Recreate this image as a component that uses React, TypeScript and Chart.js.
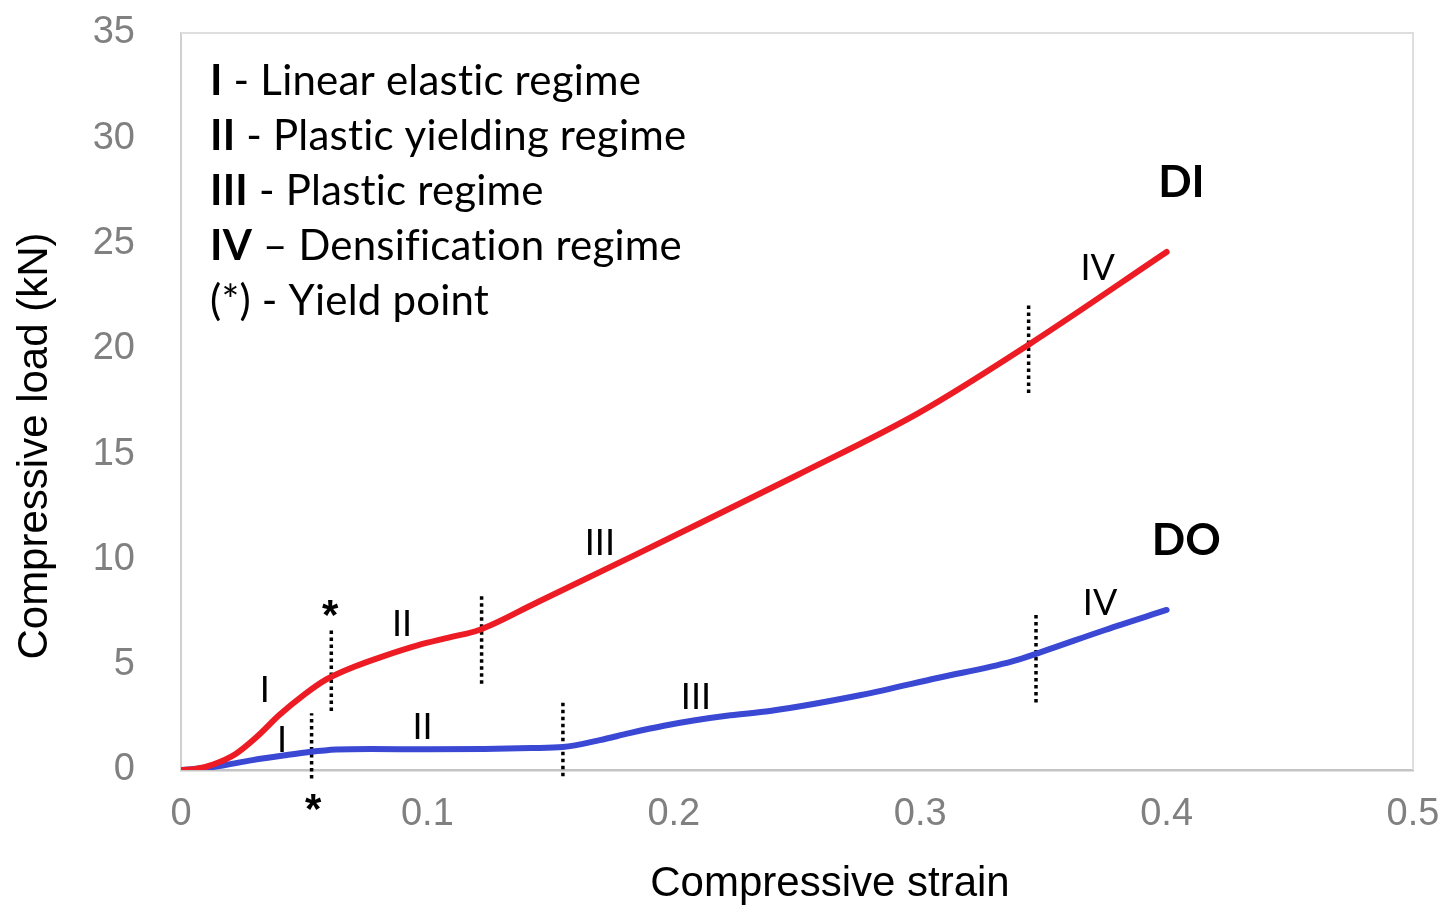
import React, { useEffect, useRef } from "react";
import { Chart, registerables } from "chart.js";

Chart.register(...registerables);

// ---- data ----
const diStrain = [0, 0.006, 0.013, 0.022, 0.031, 0.04, 0.05, 0.059, 0.07, 0.082, 0.096, 0.109, 0.121, 0.144, 0.185, 0.212, 0.25, 0.3, 0.344, 0.4];
const diLoad = [0, 0.05, 0.26, 0.75, 1.6, 2.62, 3.58, 4.3, 4.89, 5.4, 5.92, 6.3, 6.65, 7.93, 10.25, 11.8, 14.0, 17.0, 20.2, 24.6];

const doStrain = [0, 0.013, 0.029, 0.043, 0.052, 0.063, 0.077, 0.1, 0.123, 0.142, 0.155, 0.17, 0.182, 0.196, 0.208, 0.223, 0.239, 0.276, 0.307, 0.337, 0.349, 0.375, 0.4];
const doLoad = [0, 0.14, 0.47, 0.71, 0.85, 0.97, 1.0, 0.98, 1.0, 1.04, 1.09, 1.42, 1.75, 2.1, 2.35, 2.6, 2.8, 3.56, 4.37, 5.15, 5.6, 6.65, 7.6];

// dotted regime dividers
const dividerStrain = [0.061, 0.122, 0.053, 0.155, 0.344, 0.347];
const dividerLow = [2.8, 4.1, -0.4, -0.3, 17.9, 3.2];
const dividerHigh = [6.65, 8.4, 2.7, 3.3, 22.2, 7.5];

// regime labels on the curves
const regimeText = ["I", "II", "III", "IV", "I", "II", "III", "IV"];
const regimeStrain = [0.034, 0.0897, 0.17, 0.372, 0.041, 0.098, 0.209, 0.373];
const regimeLoad = [3.8, 6.9, 10.78, 23.84, 1.42, 2.0, 3.47, 7.93];

// yield point asterisks
const yieldStrain = [0.0605, 0.0536];
const yieldLoad = [7.69, -1.52];

// curve names
const curveNames = ["DI", "DO"];
const nameStrain = [0.406, 0.408];
const nameLoad = [27.9, 10.9];

// legend block
const legendBold = ["I", "II", "III", "IV", ""];
const legendRest = [" - Linear elastic regime", " - Plastic yielding regime", " - Plastic regime", " \u2013 Densification regime", "(*) - Yield point"];

// ticks
const xTickValues = [0, 0.1, 0.2, 0.3, 0.4, 0.5];
const xTickLabels = ["0", "0.1", "0.2", "0.3", "0.4", "0.5"];
const yTickValues = [0, 5, 10, 15, 20, 25, 30, 35];
const yTickLabels = ["0", "5", "10", "15", "20", "25", "30", "35"];

const xTitle = "Compressive strain";
const yTitle = "Compressive load (kN)";

const RED = "rgb(237,28,36)";
const BLUE = "rgb(58,72,212)";

const annotPlugin = {
  id: "annot",
  beforeDatasetsDraw(chart: any) {
    const { ctx, chartArea } = chart;
    ctx.save();
    ctx.strokeStyle = "#dedede";
    ctx.lineWidth = 2;
    ctx.beginPath();
    ctx.moveTo(chartArea.left, chartArea.top);
    ctx.lineTo(chartArea.right, chartArea.top);
    ctx.lineTo(chartArea.right, chartArea.bottom);
    ctx.stroke();
    ctx.restore();
  },
  afterDatasetsDraw(chart: any) {
    const { ctx, chartArea, scales } = chart;
    const xs = scales.x;
    const ys = scales.y;
    ctx.save();
    ctx.fillStyle = "#000";
    ctx.textAlign = "center";
    ctx.textBaseline = "middle";

    // regime numerals
    ctx.font = "36px Lato";
    regimeText.forEach((t, i) => {
      ctx.fillText(t, xs.getPixelForValue(regimeStrain[i]), ys.getPixelForValue(regimeLoad[i]));
    });

    // asterisks
    ctx.font = "bold 42px 'Liberation Sans'";
    yieldStrain.forEach((s, i) => {
      ctx.fillText("*", xs.getPixelForValue(s), ys.getPixelForValue(yieldLoad[i]) + 9);
    });

    // curve names
    ctx.font = "bold 44px Lato";
    curveNames.forEach((t, i) => {
      ctx.fillText(t, xs.getPixelForValue(nameStrain[i]), ys.getPixelForValue(nameLoad[i]));
    });

    // legend block
    ctx.textAlign = "left";
    try {
      (ctx as any).letterSpacing = "0.2px";
    } catch (e) {}
    const lx = chartArea.left + 29;
    legendBold.forEach((b, i) => {
      const ly = chartArea.top + 48 + i * 55;
      let x = lx;
      if (b) {
        ctx.font = "bold 42px Lato";
        ctx.fillText(b, x, ly);
        x += ctx.measureText(b).width;
      }
      ctx.font = "42px Lato";
      ctx.fillText(legendRest[i], x, ly);
    });
    try {
      (ctx as any).letterSpacing = "0px";
    } catch (e) {}

    // axis titles
    ctx.textAlign = "center";
    ctx.font = "42px 'Liberation Sans'";
    ctx.fillText(xTitle, 830, 884);
    ctx.save();
    ctx.translate(35, 446);
    ctx.rotate(-Math.PI / 2);
    ctx.fillText(yTitle, 0, 0);
    ctx.restore();

    ctx.restore();
  },
};

export default function App() {
  const ref = useRef<HTMLCanvasElement | null>(null);

  useEffect(() => {
    document.body.style.margin = "0";
    if (!ref.current) return;

    const curve = (sx: number[], sy: number[], color: string) => ({
      data: sx.map((x, i) => ({ x, y: sy[i] })),
      borderColor: color,
      backgroundColor: color,
      borderWidth: 6,
      pointRadius: 0,
      showLine: true,
      cubicInterpolationMode: "monotone" as const,
      borderCapStyle: "round" as const,
      borderJoinStyle: "round" as const,
      fill: false,
    });

    const dividers = dividerStrain.map((s, i) => ({
      data: [
        { x: s, y: dividerLow[i] },
        { x: s, y: dividerHigh[i] },
      ],
      borderColor: "#000",
      borderWidth: 3.5,
      borderDash: [3.5, 3.5],
      borderCapStyle: "butt" as const,
      pointRadius: 0,
      showLine: true,
      clip: false as any,
      fill: false,
    }));

    const chart = new Chart(ref.current, {
      type: "scatter",
      data: {
        datasets: [curve(diStrain, diLoad, RED), curve(doStrain, doLoad, BLUE), ...dividers] as any,
      },
      options: {
        animation: false,
        responsive: true,
        maintainAspectRatio: false,
        layout: { padding: { left: 0, top: 33, right: 27, bottom: 0 } },
        plugins: { legend: { display: false }, tooltip: { enabled: false } },
        scales: {
          x: {
            type: "linear",
            min: 0,
            max: 0.5,
            afterBuildTicks: (scale: any) => {
              scale.ticks = xTickValues.map((v) => ({ value: v }));
            },
            afterFit: (scale: any) => {
              scale.height = 138;
              scale.paddingLeft = 0;
              scale.paddingRight = 0;
            },
            ticks: {
              callback: (v: any) => xTickLabels[xTickValues.indexOf(Number(v))] ?? "",
              color: "#808080",
              font: { family: "'Liberation Sans'", size: 38 },
              padding: 22,
              maxRotation: 0,
              autoSkip: false,
            },
            grid: { display: false, drawTicks: false },
            border: { display: true, color: "#c4c4c4", width: 2.5 },
          },
          y: {
            type: "linear",
            min: 0,
            max: 35,
            afterBuildTicks: (scale: any) => {
              scale.ticks = yTickValues.map((v) => ({ value: v }));
            },
            afterFit: (scale: any) => {
              scale.width = 181;
              scale.paddingTop = 0;
              scale.paddingBottom = 0;
            },
            ticks: {
              callback: (v: any) => yTickLabels[yTickValues.indexOf(Number(v))] ?? "",
              color: "#808080",
              font: { family: "'Liberation Sans'", size: 38 },
              padding: 46,
              autoSkip: false,
            },
            grid: { display: false, drawTicks: false },
            border: { display: true, color: "#d0d0d0", width: 2 },
          },
        },
      },
      plugins: [annotPlugin],
    } as any);

    return () => chart.destroy();
  }, []);

  return (
    <div style={{ position: "relative", width: "1440px", height: "908px", background: "#fff" }}>
      <canvas ref={ref} />
    </div>
  );
}
